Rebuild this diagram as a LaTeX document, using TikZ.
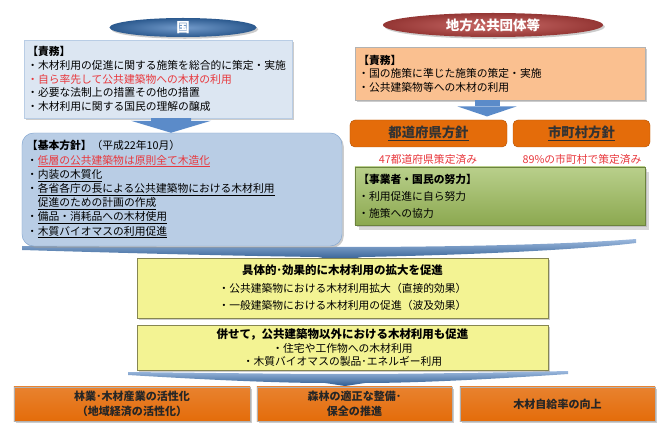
\documentclass[tikz,border=0pt]{standalone}
\usepackage{fontspec}
\setmainfont{Noto Sans CJK JP}
\usepackage{tikz}
\usetikzlibrary{shapes.geometric,shadows,arrows.meta}

\definecolor{kuniblue}{HTML}{4F81BD}
\definecolor{kunidark}{HTML}{2C5A8F}
\definecolor{dutyblue}{HTML}{DCE6F2}
\definecolor{planblue}{HTML}{B9CDE5}
\definecolor{chihored}{HTML}{C0504D}
\definecolor{chihodark}{HTML}{943634}
\definecolor{peach}{HTML}{FAC090}
\definecolor{orangetop}{HTML}{E46C0A}
\definecolor{orangemid}{HTML}{F9B27A}
\definecolor{effortgreen}{HTML}{9BBB59}
\definecolor{yellowbox}{HTML}{F3F393}
\definecolor{textred}{HTML}{E8383D}
\definecolor{arrowblue}{HTML}{5B8BC9}

\begin{document}
\begin{tikzpicture}[x=0.03cm, y=-0.03cm,
	bodyfont/.style={font=\fontsize{9.2}{#1}\selectfont},
	shadowed/.style={drop shadow={shadow xshift=1.5pt, shadow yshift=-1.5pt, fill=black!40}},
	leftbox/.style={rectangle, align=left, inner xsep=0.1cm, inner ysep=0pt, shadowed},
	titlebox/.style={ellipse, inner sep=0pt, text=white, font=\bfseries\fontsize{11.5}{12}\selectfont, shadowed},
	headbox/.style={rectangle, rounded corners=0.15cm, draw=orangetop!80!black, top color=orangetop, middle color=orangemid, bottom color=orangetop, minimum height=0.81cm, text=black!80, font=\bfseries\fontsize{11.4}{12}\selectfont},
	resultbox/.style={rectangle, draw=yellowbox!55!black, fill=yellowbox, align=center, minimum width=12.33cm, inner sep=0pt, shadowed},
	goalbox/.style={rectangle, draw=black!30, top color=orangetop!85!white, middle color=orangemid, bottom color=orangetop, align=center, minimum height=1.02cm, inner sep=0pt, text=black!85, font=\bfseries\fontsize{9.4}{13}\selectfont, shadowed},
	bluearrow/.style={draw=arrowblue, line width=#1},
]
	\useasboundingbox (0,0) rectangle (666,427);

	%% big swoosh arrows
	\shade[top color=arrowblue!60!white, bottom color=kunidark] (22,246) .. controls (150,247) and (260,247) .. (340,247) .. controls (440,247) and (560,245) .. (636,239) -- (636,243) .. controls (560,252) and (420,256) .. (362,257) -- (340,261) -- (318,257) .. controls (240,256) and (120,253) .. (22,250) -- cycle;
	\shade[top color=arrowblue!60!white, bottom color=kunidark] (128,372) .. controls (220,373) and (290,374) .. (345,374) .. controls (400,374) and (480,373) .. (568,371) -- (568,374) .. controls (480,380) and (410,383) .. (365,383) -- (345,386) -- (325,383) .. controls (280,383) and (210,380) .. (128,375) -- cycle;

	%% kuni
	\node[titlebox, minimum width=4.41cm, minimum height=0.57cm, inner color=kuniblue!80!white, outer color=kunidark] (kuni) at (183,27.5) {国};
	\node[leftbox, draw=kuniblue!40, fill=dutyblue, minimum width=8.04cm, minimum height=2.34cm, text width=7.84cm, bodyfont=11.8] (kuniduty) at (158,79) {\textbf{【責務】}\\
		・木材利用の促進に関する施策を総合的に策定・実施\\
		\textcolor{textred}{・自ら率先して公共建築物への木材の利用}\\
		・必要な法制上の措置その他の措置\\
		・木材利用に関する国民の理解の醸成};
	\node[leftbox, rounded corners=0.35cm, draw=kuniblue!70, fill=planblue, minimum width=9.6cm, minimum height=3.39cm, text width=9.3cm, inner xsep=0.15cm, bodyfont=12.1] (kihon) at (182,189.5) {\textbf{【基本方針】}（平成22年10月）\\
		・\textcolor{textred}{\underline{低層の公共建築物は原則全て木造化}}\\
		・\underline{内装の木質化}\\
		・\underline{各省各庁の長による公共建築物における木材利用}\\
		\hspace*{1em}\underline{促進のための計画の作成}\\
		・\underline{備品・消耗品への木材使用}\\
		・\underline{木質バイオマスの利用促進}};

	%% chiho
	\node[titlebox, minimum width=6.6cm, minimum height=0.72cm, inner color=chihored!85!white, outer color=chihodark] (chiho) at (493,25) {地方公共団体等};
	\node[leftbox, draw=black!30, fill=peach, minimum width=8.7cm, minimum height=1.59cm, text width=8.5cm, bodyfont=11.6] (chihoduty) at (500,73.5) {\textbf{【責務】}\\
		・国の施策に準じた施策の策定・実施\\
		・公共建築物等への木材の利用};
	\node[headbox, minimum width=4.71cm] (pref) at (428.5,133.5) {\underline{都道府県方針}};
	\node[headbox, minimum width=4.11cm] (city) at (581.5,133.5) {\underline{市町村方針}};
	\node[text=textred, inner sep=0pt, bodyfont=10] (prefnote) at (428,159) {47都道府県策定済み};
	\node[text=textred, inner sep=0pt, bodyfont=10] (citynote) at (582,159) {89\%の市町村で策定済み};
	\node[leftbox, draw=effortgreen!70!black, top color=effortgreen!70!white, bottom color=effortgreen!90!black, minimum width=8.7cm, minimum height=1.74cm, text width=8.5cm, bodyfont=14.5, drop shadow={shadow xshift=3pt, shadow yshift=-4pt, fill=black!30}] (effort) at (500,196) {\textbf{【事業者・国民の努力】}\\
		・利用促進に自ら努力\\
		・施策への協力};

	%% results
	\node[resultbox, minimum height=1.8cm, bodyfont=14.9] (effect) at (342.5,288) {\textbf{\fontsize{9.8}{14.9}\selectfont 具体的･効果的に木材利用の拡大を促進}\\
		・公共建築物における木材利用拡大（直接的効果）\\
		・一般建築物における木材利用の促進（波及効果）};
	\node[resultbox, minimum height=1.35cm, bodyfont=11.9] (other) at (342.5,347.5) {\textbf{\fontsize{9.8}{11.9}\selectfont 併せて，公共建築物以外における木材利用も促進}\\
		・住宅や工作物への木材利用\\
		・木質バイオマスの製品･エネルギー利用};

	%% goals
	\node[goalbox, minimum width=7.08cm] (industry) at (132,404) {林業･木材産業の活性化\\（地域経済の活性化）};
	\node[goalbox, minimum width=5.85cm] (forest) at (354.5,404) {森林の適正な整備･\\保全の推進};
	\node[goalbox, minimum width=5.85cm] (selfrate) at (557.5,404) {木材自給率の向上};

	%% small arrows
	\draw[bluearrow=1.2cm, -{Triangle[width=2.4cm, length=0.36cm, line width=0pt]}] ([xshift=0.39cm]kuniduty.south) -- ([xshift=-0.33cm]kihon.north);
	\draw[bluearrow=0.75cm, -{Triangle[width=1.77cm, length=0.3cm, line width=0pt]}] ([xshift=-0.39cm]chihoduty.south) -- ([xshift=-0.39cm, yshift=0.1cm]chihoduty.south |- pref.north);
\end{tikzpicture}
\end{document}
